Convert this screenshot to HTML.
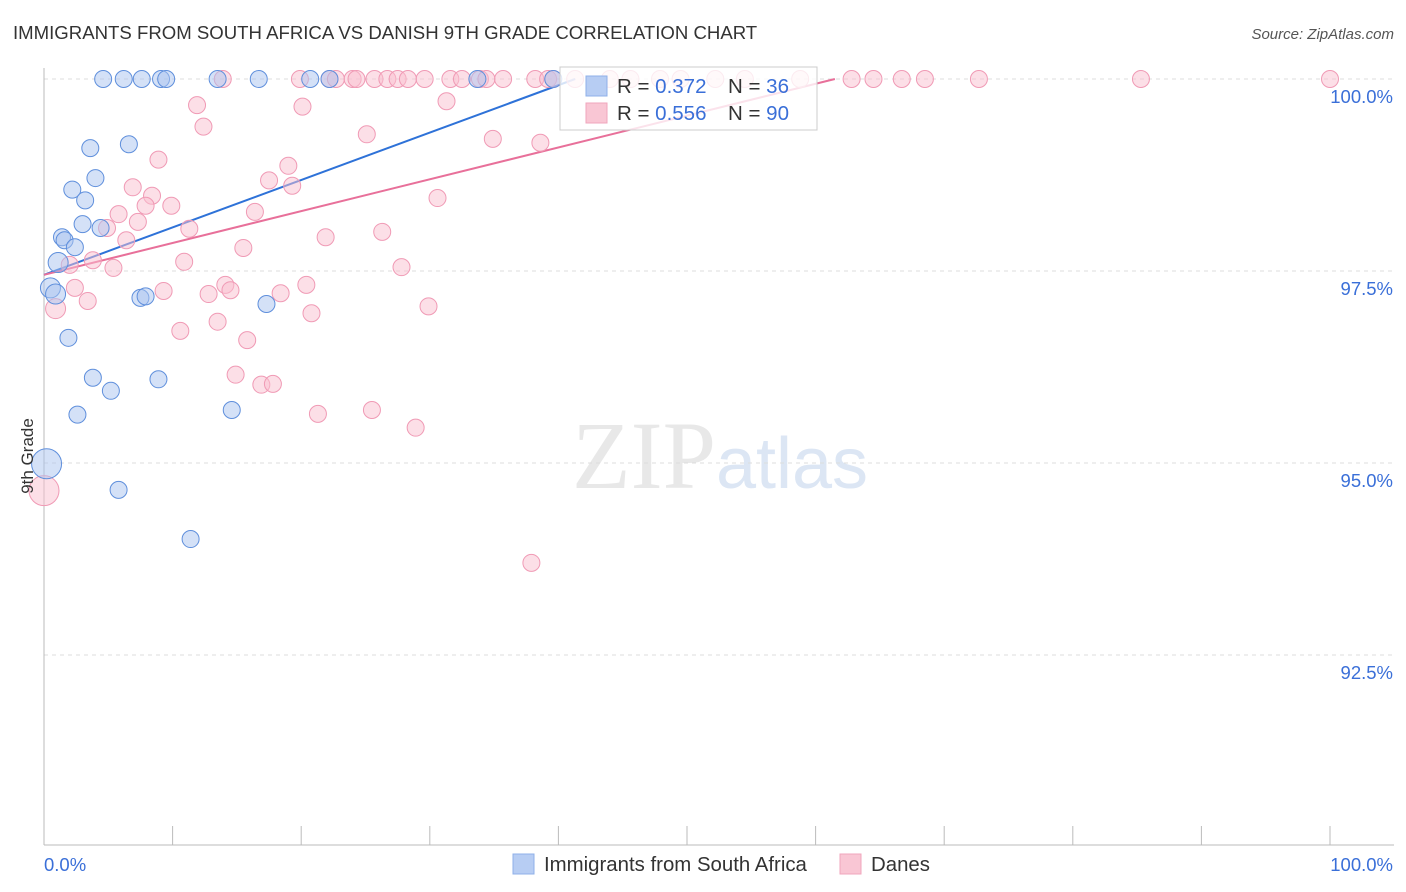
<!DOCTYPE html>
<html><head><meta charset="utf-8"><style>
body{margin:0;background:#fff;font-family:"Liberation Sans",sans-serif;}
svg{display:block}
</style></head><body>
<svg id="chart" width="1406" height="892" xmlns="http://www.w3.org/2000/svg">
<text x="13" y="39" font-size="18.6" fill="#333">IMMIGRANTS FROM SOUTH AFRICA VS DANISH 9TH GRADE CORRELATION CHART</text>
<text x="1394" y="39" font-size="15" fill="#555" text-anchor="end" font-style="italic">Source: ZipAtlas.com</text>
<text x="720" y="488" font-size="96" text-anchor="middle" fill="#e8e8e8" font-family="Liberation Serif,serif">ZIP<tspan fill="#dce6f4" font-family="Liberation Sans,sans-serif" font-size="72">atlas</tspan></text>
<g id="grid"></g>
<g id="axes"></g>
<g id="lines"></g>
<g id="pts"></g>
<text transform="translate(33,456) rotate(-90)" font-size="17" fill="#333" text-anchor="middle">9th Grade</text>
<g>
<rect x="560" y="67" width="257" height="63" fill="#fff" fill-opacity="0.8" stroke="#ccc"/>
<rect x="586" y="76" width="21" height="20" fill="#b7cdf3" stroke="#8fb0e8"/>
<rect x="586" y="103" width="21" height="20" fill="#f9c6d4" stroke="#f0a6bc"/>
<text x="617" y="93" font-size="20.5" fill="#333">R = <tspan fill="#3a6fd8">0.372</tspan></text>
<text x="728" y="93" font-size="20.5" fill="#333">N = <tspan fill="#3a6fd8"> 36</tspan></text>
<text x="617" y="120" font-size="20.5" fill="#333">R = <tspan fill="#3a6fd8">0.556</tspan></text>
<text x="728" y="120" font-size="20.5" fill="#333">N = <tspan fill="#3a6fd8">90</tspan></text>
</g>
<g>
<rect x="513" y="854" width="21" height="20" fill="#b7cdf3" stroke="#8fb0e8"/>
<text x="544" y="871" font-size="20.4" fill="#333">Immigrants from South Africa</text>
<rect x="840" y="854" width="21" height="20" fill="#f9c6d4" stroke="#f0a6bc"/>
<text x="871" y="871" font-size="20.4" fill="#333">Danes</text>
</g>
</svg>
<script>
const yTicks=[100,97.5,95,92.5];
const yTickLabels=["100.0%","97.5%","95.0%","92.5%"];
const xTickCount=10;
const blueX=[4.6,6.2,7.6,9.1,9.5,13.5,16.7,20.7,22.2,33.7,3.6,6.6,4.0,2.2,3.2,3.0,4.4,1.4,1.6,2.4,1.1,0.5,0.9,7.5,7.9,17.3,1.9,3.8,5.2,8.9,2.6,14.6,0.2,5.8,11.4,39.6];
const blueY=[100,100,100,100,100,100,100,100,100,100,99.10,99.15,98.71,98.56,98.42,98.11,98.06,97.94,97.90,97.81,97.61,97.28,97.20,97.15,97.17,97.07,96.63,96.11,95.94,96.09,95.63,95.69,94.99,94.65,94.01,100];
const pinkX=[13.9,19.9,22.2,22.7,24.0,24.3,25.7,26.7,27.5,28.3,29.6,31.6,32.5,33.9,34.4,35.7,38.2,39.2,39.6,41.3,44.0,45.6,47.9,49.5,52.2,54.5,58.8,62.8,64.5,66.7,68.5,72.7,85.3,100,
11.9,20.1,31.3,12.4,25.1,34.9,38.6,8.9,19.0,17.5,19.3,6.9,8.4,30.6,7.9,9.9,5.8,16.4,7.3,4.9,11.3,26.3,21.9,6.4,15.5,3.8,10.9,2.0,5.4,27.8,2.4,9.3,14.1,14.5,12.8,18.4,20.4,3.4,0.9,20.8,29.9,13.5,10.6,15.8,14.9,16.9,17.8,21.3,25.5,28.9,37.9,0];
const pinkY=[100,100,100,100,100,100,100,100,100,100,100,100,100,100,100,100,100,100,100,100,100,100,100,100,100,100,100,100,100,100,100,100,100,100,
99.66,99.64,99.71,99.38,99.28,99.22,99.17,98.95,98.87,98.68,98.61,98.59,98.48,98.45,98.35,98.35,98.24,98.27,98.14,98.06,98.05,98.01,97.94,97.90,97.80,97.64,97.62,97.58,97.54,97.55,97.28,97.24,97.32,97.25,97.20,97.21,97.32,97.11,97.01,96.95,97.04,96.84,96.72,96.60,96.15,96.02,96.03,95.64,95.69,95.46,93.70,94.64];
const blueLine=[0,97.45,41.3,100];
const pinkLine=[0,97.45,61.5,100];
const NS="http://www.w3.org/2000/svg";
const X=v=>44+v*12.86, Y=v=>79+(100-v)*76.8;
function mk(t,a,p){const e=document.createElementNS(NS,t);for(const k in a)e.setAttribute(k,a[k]);p.appendChild(e);return e;}
const grid=document.getElementById('grid'),axes=document.getElementById('axes');
yTicks.forEach((t,i)=>{const g=mk('line',{x1:44,x2:1394,y1:Y(t),y2:Y(t),stroke:'#ddd','stroke-dasharray':'4,4'},grid);

const l=mk('text',{x:1393,y:Y(t)+24,'font-size':18.5,fill:'#3a6fd8','text-anchor':'end'},axes);l.textContent=yTickLabels[i];
});
mk('line',{x1:44,x2:44,y1:68,y2:845,stroke:'#bbb'},axes);
mk('line',{x1:44,x2:1394,y1:845,y2:845,stroke:'#bbb'},axes);
for(let i=0;i<=xTickCount;i++){const t=mk('line',{x1:X(i*10),x2:X(i*10),y1:826,y2:845,stroke:'#bbb'},axes);
}
let a=mk('text',{x:44,y:871,'font-size':18.5,fill:'#3a6fd8'},axes);a.textContent="0.0%";

a=mk('text',{x:1393,y:871,'font-size':18.5,fill:'#3a6fd8','text-anchor':'end'},axes);a.textContent="100.0%";

const pts=document.getElementById('pts');
function draw(xs,ys,fill,stroke,name){xs.forEach((x,i)=>{let r=(x<0.5)?15:(x<1.2?10:8.5);
const c=mk('circle',{cx:X(x),cy:Y(ys[i]),r:r,fill:fill,'fill-opacity':0.5,stroke:stroke,'stroke-width':1},pts);
});}
draw(pinkX,pinkY,'#f9c0d0','#f09ab5','danes-point');
draw(blueX,blueY,'#a9c4f0','#5f8fdc','south-africa-point');
const lines=document.getElementById('lines');
let L=mk('line',{x1:X(blueLine[0]),y1:Y(blueLine[1]),x2:X(blueLine[2]),y2:Y(blueLine[3]),stroke:'#2e72d8','stroke-width':2},lines);

L=mk('line',{x1:X(pinkLine[0]),y1:Y(pinkLine[1]),x2:X(pinkLine[2]),y2:Y(pinkLine[3]),stroke:'#e8709a','stroke-width':2},lines);

</script>
</body></html>
